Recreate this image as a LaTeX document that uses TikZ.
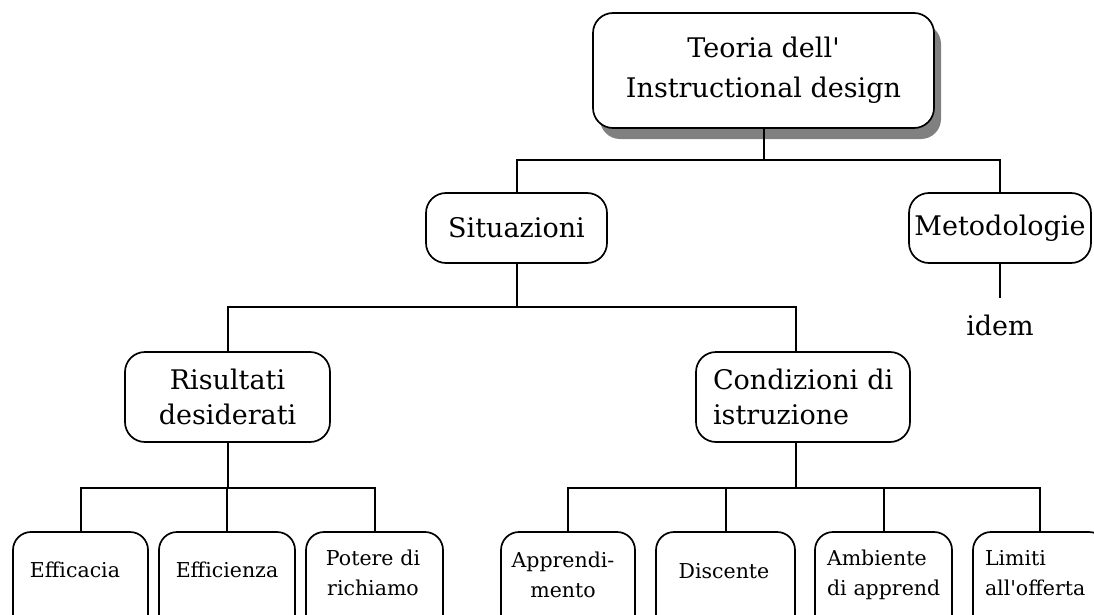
\documentclass[tikz,border=0pt]{standalone}
\usepackage{fontspec}
\setmainfont{DejaVu Serif}[Ligatures=TeXOff]
\usetikzlibrary{shadows}
\begin{document}
\begin{tikzpicture}[x=1pt,y=-1pt,
  box/.style={draw=black, fill=white, line width=1.7pt, rounded corners=20pt,
    inner sep=0pt, align=center, font=\fontsize{27}{35}\selectfont},
  leaf/.style={draw=black, line width=1.7pt, rounded corners=18pt, inner sep=0pt,
    minimum height=128pt},
  leaftext/.style={font=\fontsize{20.5}{30.5}\selectfont, inner sep=0pt, anchor=base},
  wire/.style={line width=2pt}]
\useasboundingbox (0,0) rectangle (1094,615);
\clip (0,0) rectangle (1094,615);

% root with its drop shadow
\node[box, minimum width=341pt, minimum height=115pt,
      font=\fontsize{27}{40}\selectfont,
      drop shadow={shadow xshift=7pt, shadow yshift=-11pt, fill=gray, opacity=1}]
  (top) at (763.5,70.5) {Teoria dell'\\Instructional design};

% second level
\node[box, minimum width=181pt, minimum height=70pt] (sit) at (516.5,228) {Situazioni};
\node[box, minimum width=182pt, minimum height=70pt] (met) at (1000,228) {Metodologie};
\node[font=\fontsize{27}{35}\selectfont, inner sep=0pt, anchor=base] (idem) at (1000,335) {idem};

% third level
\node[box, minimum width=205pt, minimum height=90pt] (ris) at (227.5,397) {Risultati\\desiderati};
\node[box, minimum width=214pt, minimum height=90pt, text width=180pt, align=left]
  (cond) at (803,397) {\mbox{Condizioni di}\\istruzione};

% leaves (their lower edge runs off the page)
\node[leaf, minimum width=135pt] (eff)  at (80.5,596)  {};
\node[leaf, minimum width=136pt] (effz) at (227,596)   {};
\node[leaf, minimum width=137pt] (pot)  at (374.5,596) {};
\node[leaf, minimum width=134pt] (app)  at (568,596)   {};
\node[leaf, minimum width=139pt] (dis)  at (725.5,596) {};
\node[leaf, minimum width=137pt] (amb)  at (883.5,596) {};
\node[leaf, minimum width=134pt] (lim)  at (1040,596)  {};

\node[leaftext] (teff)  at (75,577)  {Efficacia};
\node[leaftext] (teffz) at (227,577) {Efficienza};
\node[leaftext, text width=120pt, align=center] (tpot) at (373,565) {Potere di\\richiamo};
\node[leaftext, text width=120pt, align=center] (tapp) at (563,567) {Apprendi-\\mento};
\node[leaftext] (tdis)  at (724,578) {Discente};
\node[leaftext, text width=125pt, align=left] (tamb) at (889.5,565) {Ambiente\\di apprend};
\node[leaftext, text width=125pt, align=left] (tlim) at (1047.5,565) {Limiti\\all'offerta};

% connectors
\coordinate (j0) at (765,160);
\draw[wire] (top.south) -- (top.south |- j0);
\draw[wire] (sit.north) -- (sit.north |- j0) -- (met.north |- j0) -- (met.north);
\draw[wire, shorten >=16pt] (met.south) -- (idem.north);

\coordinate (j1) at (516,307);
\coordinate (cin) at ([xshift=-7pt]cond.north);
\draw[wire] (sit.south) -- (sit.south |- j1);
\draw[wire] (ris.north) -- (ris.north |- j1) -- (cin |- j1) -- (cin);

\coordinate (j2) at (227,488);
\draw[wire] (ris.south) -- (ris.south |- j2);
\draw[wire] (eff.north) -- (eff.north |- j2) -- (pot.north |- j2) -- (pot.north);
\draw[wire] (effz.north) -- (effz.north |- j2);

\coordinate (cout) at ([xshift=-7pt]cond.south);
\draw[wire] (cout) -- (cout |- j2);
\draw[wire] (app.north) -- (app.north |- j2) -- (lim.north |- j2) -- (lim.north);
\draw[wire] (dis.north) -- (dis.north |- j2);
\draw[wire] (amb.north) -- (amb.north |- j2);
\end{tikzpicture}
\end{document}
